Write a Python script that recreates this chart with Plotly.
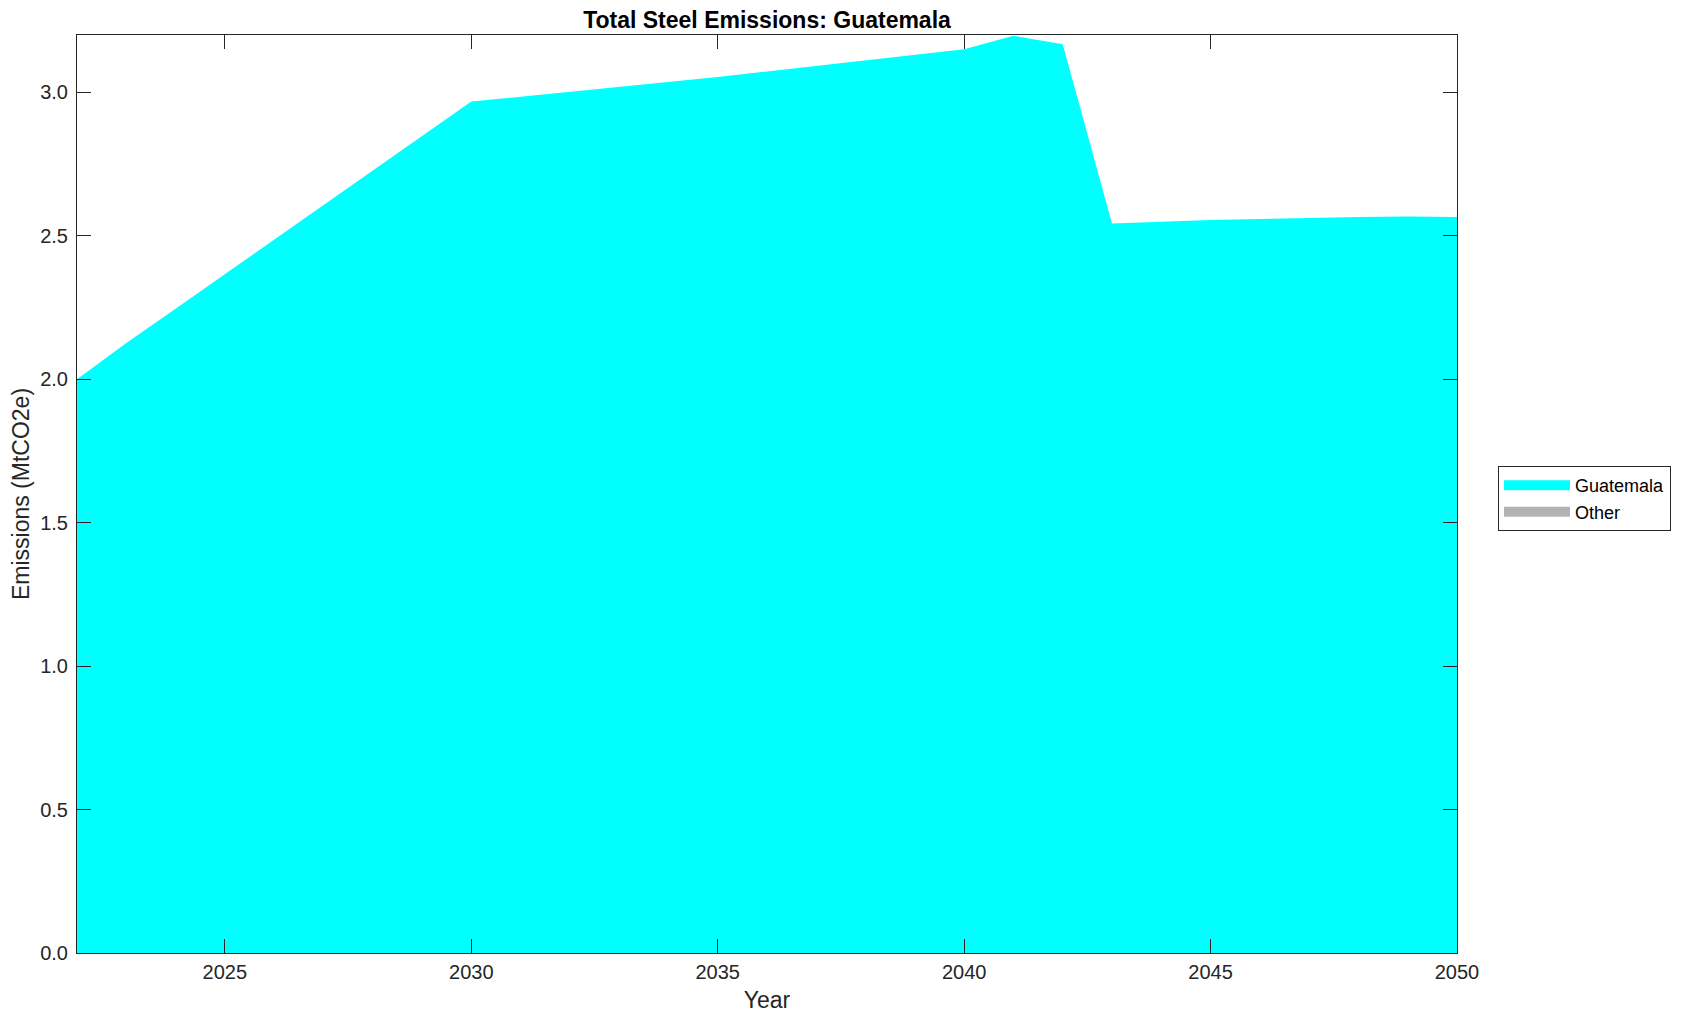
import plotly.graph_objects as go

years = list(range(2022, 2051))
guatemala = [2.000, 2.126, 2.246, 2.366, 2.487, 2.607, 2.727, 2.848, 2.968,
             2.985, 3.002, 3.019, 3.036, 3.054, 3.073, 3.092, 3.111, 3.130, 3.150,
             3.197, 3.168, 2.543, 2.550, 2.555, 2.559, 2.563, 2.566, 2.567, 2.566]
other = [0.0] * len(years)
x_ticks = [2025, 2030, 2035, 2040, 2045, 2050]
y_ticks = [0.0, 0.5, 1.0, 1.5, 2.0, 2.5, 3.0]

FONT = "Liberation Sans, Arial, Helvetica, sans-serif"
AX = "#262626"
CYAN = "#00ffff"
GRAY = "#b3b3b3"

# page body has an 8px default margin, so the figure is offset by 8px
W, H = 1678, 1013

fig = go.Figure()
fig.add_trace(go.Scatter(x=years, y=guatemala, name="Guatemala", mode="lines",
                         stackgroup="one", line=dict(width=0, color=CYAN),
                         fillcolor=CYAN, showlegend=False))
fig.add_trace(go.Scatter(x=years, y=other, name="Other", mode="lines",
                         stackgroup="one", line=dict(width=0, color=GRAY),
                         fillcolor=GRAY, showlegend=False))
# legend entries (rectangular swatches)
fig.add_trace(go.Scatter(x=[None], y=[None], name="Guatemala", mode="lines",
                         line=dict(width=16, color=CYAN)))
fig.add_trace(go.Scatter(x=[None], y=[None], name="Other", mode="lines",
                         line=dict(width=16, color=GRAY)))

fig.update_layout(
    width=W, height=H,
    margin=dict(l=69, r=229, t=27, b=68, autoexpand=False),
    paper_bgcolor="white", plot_bgcolor="white",
    font=dict(family=FONT, size=20, color=AX),
    title=dict(text="<b>Total Steel Emissions: Guatemala</b>", x=0.5, xanchor="center",
               xref="paper", yref="container", y=1 - 12 / H, yanchor="middle",
               font=dict(family=FONT, size=23, color="black")),
    showlegend=True,
    legend=dict(x=1.0297, xanchor="left", y=0.495, yanchor="middle",
                bordercolor="#262626", borderwidth=1, bgcolor="white",
                font=dict(family=FONT, size=18, color="black"),
                itemwidth=66, tracegroupgap=0, traceorder="normal"),
)
fig.update_xaxes(range=[2022, 2050], tickvals=x_ticks, ticktext=[str(v) for v in x_ticks],
                 ticks="inside", ticklen=14, tickcolor=AX, tickwidth=1,
                 showline=True, linecolor=AX, linewidth=1, mirror="ticks",
                 showgrid=False, zeroline=False, automargin=False,
                 title=dict(text="Year", font=dict(family=FONT, size=23, color=AX), standoff=9),
                 ticklabelstandoff=1)
fig.update_yaxes(range=[0, 3.2], tickvals=y_ticks, tickformat=".1f",
                 ticks="inside", ticklen=14, tickcolor=AX, tickwidth=1,
                 showline=True, linecolor=AX, linewidth=1, mirror="ticks",
                 showgrid=False, zeroline=False, automargin=False,
                 title=dict(text="Emissions (MtCO2e)", font=dict(family=FONT, size=23, color=AX), standoff=4),
                 ticklabelstandoff=4)

fig.write_html("out.html")
